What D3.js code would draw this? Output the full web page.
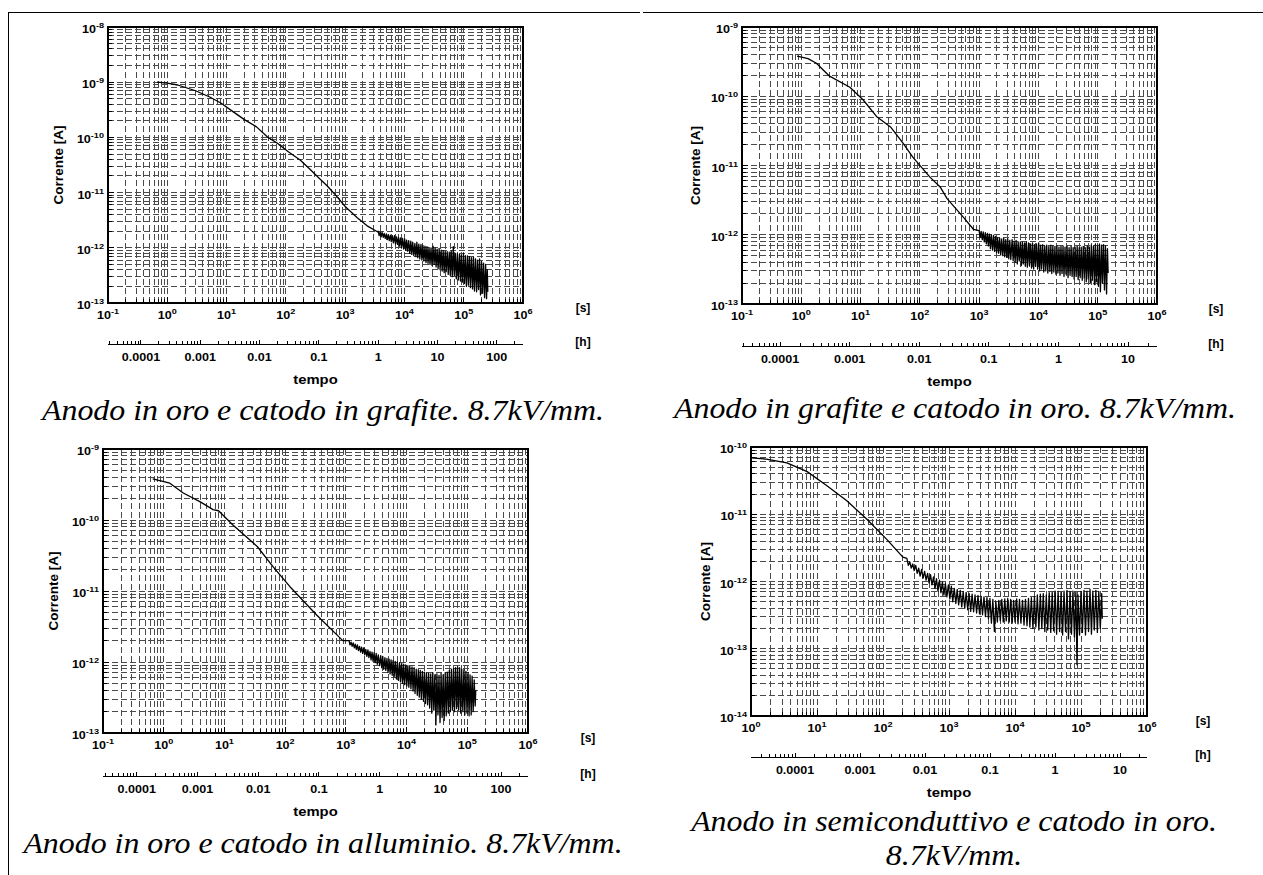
<!DOCTYPE html>
<html><head><meta charset="utf-8">
<script src="https://cdn.jsdelivr.net/npm/d3@7"></script>
<style>body{margin:0;background:#fff} svg{display:block}</style>
</head><body>
<svg id="c" width="1263" height="875"></svg>
<script>
// ---------- DATA: [time s, current A] ----------
const p1Data = [[0.67,1.0e-9],[1.0,9.6e-10],[1.5,8.9e-10],[3.0,7.0e-10],[5.2,5.4e-10],[8.0,4.2e-10],[13,2.9e-10],[20,2.1e-10],
 [32,1.55e-10],[50,1.0e-10],[71,7.9e-11],[110,5.5e-11],[174,3.9e-11],[250,2.7e-11],[350,1.9e-11],[500,1.32e-11],[710,8.7e-12],
 [1000,5.6e-12],[1600,3.5e-12],[2350,2.5e-12],[3500,1.95e-12],
 [3600,2.0e-12],[3750,1.66e-12],[3900,1.95e-12],[4050,1.58e-12],[4200,1.9e-12],[4400,1.55e-12],[4550,1.82e-12],[4750,1.48e-12],
 [4950,1.78e-12],[5150,1.41e-12],[5350,1.74e-12],[5550,1.35e-12],[5800,1.7e-12],[6000,1.29e-12],[6250,1.66e-12],[6500,1.23e-12],
 [6800,1.66e-12],[7050,1.17e-12],[7350,1.58e-12],[7650,1.15e-12],[7950,1.55e-12],[8300,1.07e-12],[8600,1.51e-12],[8950,1.02e-12],
 [9300,1.48e-12],[9700,9.5e-13],[1.01e4,1.45e-12],[1.05e4,9.1e-13],[1.09e4,1.38e-12],[1.13e4,8.7e-13],[1.18e4,1.35e-12],[1.23e4,7.9e-13],
 [1.28e4,1.32e-12],[1.33e4,7.6e-13],[1.38e4,1.26e-12],[1.44e4,7.2e-13],[1.5e4,1.2e-12],[1.56e4,6.9e-13],[1.62e4,1.26e-12],[1.68e4,6.6e-13],
 [1.75e4,1.17e-12],[1.82e4,6.3e-13],[1.9e4,1.15e-12],[1.97e4,6.0e-13],[2.05e4,1.1e-12],[2.13e4,5.75e-13],[2.22e4,1.07e-12],[2.31e4,5.4e-13],
 [2.4e4,1.05e-12],[2.5e4,5.25e-13],[2.6e4,1.02e-12],[2.7e4,5.0e-13],[2.81e4,1.0e-12],[2.92e4,4.8e-13],[3.04e4,1.07e-12],[3.16e4,5.0e-13],
 [3.29e4,1.0e-12],[3.42e4,4.5e-13],[3.56e4,9.5e-13],[3.7e4,4.2e-13],[3.85e4,9.8e-13],[4.0e4,4.0e-13],[4.16e4,9.1e-13],[4.33e4,3.8e-13],
 [4.5e4,8.9e-13],[4.68e4,3.55e-13],[4.87e4,8.7e-13],[5.06e4,3.7e-13],[5.27e4,8.5e-13],[5.48e4,3.3e-13],[5.7e4,8.3e-13],[5.93e4,3.2e-13],
 [6.16e4,8.7e-13],[6.41e4,3.0e-13],[6.67e4,1.05e-12],[6.93e4,3.2e-13],[7.21e4,7.9e-13],[7.5e4,2.75e-13],[7.8e4,7.8e-13],[8.1e4,2.6e-13],
 [8.45e4,7.6e-13],[8.8e4,2.5e-13],[9.1e4,7.4e-13],[9.5e4,2.4e-13],[9.9e4,7.8e-13],[1.03e5,2.25e-13],[1.07e5,7.2e-13],[1.11e5,2.0e-13],
 [1.16e5,7.1e-13],[1.2e5,2.1e-13],[1.25e5,6.9e-13],[1.3e5,1.9e-13],[1.35e5,6.6e-13],[1.41e5,1.8e-13],[1.46e5,6.8e-13],[1.52e5,1.65e-13],
 [1.58e5,6.3e-13],[1.65e5,1.6e-13],[1.71e5,6.0e-13],[1.78e5,1.75e-13],[1.85e5,6.3e-13],[1.92e5,1.4e-13],[2.0e5,5.6e-13],[2.08e5,1.5e-13],
 [2.16e5,5.25e-13],[2.25e5,1.25e-13],[2.34e5,5.0e-13],[2.43e5,1.2e-13],[2.5e5,4.0e-13],[2.55e5,1.6e-13]];

const p2Data = [[0.85,3.8e-10],[1.3,3.5e-10],[1.8,3.0e-10],[3.0,1.95e-10],[6.6,1.35e-10],[11,8.9e-11],[19,5.0e-11],[32,3.6e-11],
 [52,2.1e-11],[76,1.32e-11],[148,6.8e-12],[220,4.9e-12],[290,3.3e-12],[540,1.8e-12],[800,1.2e-12],
 [1000,1.15e-12],[1040,9.1e-13],[1080,1.12e-12],[1130,8.5e-13],[1170,1.1e-12],[1220,7.9e-13],[1270,1.07e-12],[1320,7.4e-13],
 [1380,1.05e-12],[1430,6.9e-13],[1490,1.02e-12],[1550,6.3e-13],[1610,1.0e-12],[1680,6.0e-13],[1750,9.8e-13],[1820,5.75e-13],
 [1890,9.5e-13],[1970,5.5e-13],[2050,9.1e-13],[2130,5.4e-13],[2220,8.9e-13],[2310,5.1e-13],[2400,8.7e-13],[2500,5.0e-13],
 [2600,8.9e-13],[2700,4.8e-13],[2810,8.5e-13],[2920,4.7e-13],[3040,8.7e-13],[3160,4.5e-13],[3290,8.3e-13],[3420,4.4e-13],
 [3600,8.5e-13],[3750,4.2e-13],[3900,8.1e-13],[4050,4.0e-13],[4200,8.3e-13],[4400,3.8e-13],[4550,7.9e-13],[4750,4.2e-13],
 [4950,7.9e-13],[5150,3.6e-13],[5350,7.8e-13],[5550,3.8e-13],[5800,7.6e-13],[6000,3.55e-13],[6250,7.9e-13],[6500,3.4e-13],
 [6800,7.6e-13],[7050,3.6e-13],[7350,7.4e-13],[7650,3.3e-13],[7950,7.6e-13],[8300,3.2e-13],[8600,7.2e-13],[8950,3.5e-13],
 [9300,7.4e-13],[9700,3.2e-13],[1.01e4,7.6e-13],[1.05e4,3.0e-13],[1.09e4,7.1e-13],[1.13e4,3.2e-13],[1.18e4,7.2e-13],[1.23e4,2.9e-13],
 [1.28e4,6.9e-13],[1.33e4,3.0e-13],[1.38e4,7.1e-13],[1.44e4,2.8e-13],[1.5e4,6.8e-13],[1.56e4,2.95e-13],[1.62e4,7.1e-13],[1.68e4,2.75e-13],
 [1.75e4,6.9e-13],[1.82e4,2.9e-13],[1.9e4,6.8e-13],[1.97e4,2.7e-13],[2.05e4,6.9e-13],[2.13e4,2.8e-13],[2.22e4,6.6e-13],[2.31e4,2.6e-13],
 [2.4e4,6.8e-13],[2.5e4,2.75e-13],[2.6e4,6.9e-13],[2.7e4,2.5e-13],[2.81e4,6.6e-13],[2.92e4,2.7e-13],[3.04e4,6.8e-13],[3.16e4,2.4e-13],
 [3.29e4,6.5e-13],[3.42e4,2.6e-13],[3.56e4,6.8e-13],[3.7e4,2.5e-13],[3.85e4,6.5e-13],[4.0e4,2.3e-13],[4.16e4,6.6e-13],[4.33e4,2.5e-13],
 [4.5e4,6.8e-13],[4.68e4,2.25e-13],[4.87e4,6.5e-13],[5.06e4,2.4e-13],[5.27e4,6.6e-13],[5.48e4,2.2e-13],[5.7e4,6.8e-13],[5.93e4,2.35e-13],
 [6.16e4,6.5e-13],[6.41e4,2.1e-13],[6.67e4,6.9e-13],[6.93e4,2.3e-13],[7.21e4,6.6e-13],[7.5e4,2.0e-13],[7.8e4,7.1e-13],[8.1e4,2.2e-13],
 [8.45e4,6.8e-13],[8.8e4,1.9e-13],[9.1e4,7.2e-13],[9.5e4,2.1e-13],[9.9e4,6.9e-13],[1.03e5,1.8e-13],[1.07e5,7.4e-13],[1.11e5,1.5e-13],
 [1.16e5,7.1e-13],[1.2e5,2.0e-13],[1.25e5,7.2e-13],[1.3e5,1.6e-13],[1.35e5,6.9e-13],[1.41e5,1.4e-13],[1.46e5,6.3e-13],[1.5e5,2.8e-13]];

const p3Data = [[0.66,3.8e-10],[1.26,3.3e-10],[2.1,2.4e-10],[4.0,1.8e-10],[6.5,1.4e-10],[8.0,1.35e-10],[13.8,8.5e-11],[35,4.2e-11],
 [63,2.2e-11],[120,1.15e-11],[330,4.6e-12],[890,2.0e-12],
 [1130,2.0e-12],[1170,1.74e-12],[1220,1.9e-12],[1270,1.66e-12],[1320,1.86e-12],[1380,1.58e-12],[1430,1.78e-12],[1490,1.51e-12],
 [1550,1.74e-12],[1610,1.45e-12],[1680,1.66e-12],[1750,1.38e-12],[1820,1.62e-12],[1890,1.32e-12],[1970,1.58e-12],[2050,1.26e-12],
 [2130,1.51e-12],[2220,1.2e-12],[2310,1.48e-12],[2400,1.15e-12],[2500,1.41e-12],[2600,1.07e-12],[2700,1.38e-12],[2810,1.02e-12],
 [2920,1.35e-12],[3040,9.8e-13],[3160,1.32e-12],[3290,9.3e-13],[3420,1.26e-12],[3600,8.9e-13],[3750,1.23e-12],[3900,8.3e-13],
 [4050,1.2e-12],[4200,7.9e-13],[4400,1.15e-12],[4550,7.6e-13],[4750,1.12e-12],[4950,7.1e-13],[5150,1.1e-12],[5350,6.8e-13],
 [5550,1.07e-12],[5800,6.5e-13],[6000,1.05e-12],[6250,6.2e-13],[6500,1.02e-12],[6800,5.75e-13],[7050,1.0e-12],[7350,5.5e-13],
 [7650,9.8e-13],[7950,5.25e-13],[8300,9.5e-13],[8600,5.0e-13],[8950,9.3e-13],[9300,4.8e-13],[9700,9.1e-13],[1.01e4,4.6e-13],
 [1.05e4,8.9e-13],[1.09e4,4.4e-13],[1.13e4,8.7e-13],[1.18e4,4.2e-13],[1.23e4,8.5e-13],[1.28e4,3.9e-13],[1.33e4,8.3e-13],[1.38e4,3.6e-13],
 [1.44e4,7.9e-13],[1.5e4,3.4e-13],[1.56e4,7.8e-13],[1.62e4,3.2e-13],[1.68e4,7.6e-13],[1.75e4,3.0e-13],[1.82e4,7.4e-13],[1.9e4,2.8e-13],
 [1.97e4,7.2e-13],[2.05e4,2.6e-13],[2.13e4,7.1e-13],[2.22e4,2.5e-13],[2.31e4,6.9e-13],[2.4e4,2.25e-13],[2.5e4,6.8e-13],[2.6e4,1.9e-13],
 [2.7e4,7.1e-13],[2.81e4,2.1e-13],[2.92e4,6.6e-13],[3.04e4,1.3e-13],[3.16e4,6.8e-13],[3.29e4,1.8e-13],[3.42e4,6.5e-13],[3.56e4,1.4e-13],
 [3.7e4,6.9e-13],[3.85e4,1.65e-13],[4.0e4,6.6e-13],[4.16e4,1.5e-13],[4.33e4,7.1e-13],[4.5e4,1.75e-13],[4.68e4,7.2e-13],[4.87e4,1.9e-13],
 [5.06e4,7.6e-13],[5.27e4,2.0e-13],[5.48e4,7.9e-13],[5.7e4,2.1e-13],[5.93e4,8.1e-13],[6.16e4,2.0e-13],[6.41e4,8.3e-13],[6.67e4,2.2e-13],
 [6.93e4,8.5e-13],[7.21e4,2.1e-13],[7.5e4,8.3e-13],[7.8e4,1.9e-13],[8.1e4,7.9e-13],[8.45e4,2.0e-13],[8.8e4,7.8e-13],[9.1e4,1.8e-13],
 [9.5e4,7.4e-13],[9.9e4,1.9e-13],[1.03e5,7.1e-13],[1.07e5,1.75e-13],[1.11e5,6.6e-13],[1.16e5,1.8e-13],[1.2e5,6.3e-13],[1.25e5,2.0e-13],
 [1.3e5,5.6e-13],[1.35e5,2.4e-13],[1.38e5,4.0e-13]];

const p4Data = [[1.0,6.9e-11],[1.7,6.6e-11],[3.5,5.8e-11],[7.1,4.3e-11],[13.8,2.7e-11],[28,1.6e-11],[55,8.7e-12],[115,4.2e-12],[200,2.3e-12],
 [230,2.2e-12],[242,1.74e-12],[255,1.95e-12],[268,1.58e-12],[282,1.82e-12],[297,1.45e-12],[313,1.74e-12],[330,1.32e-12],
 [347,1.58e-12],[365,1.2e-12],[385,1.51e-12],[405,1.12e-12],[427,1.41e-12],[450,1.05e-12],[474,1.32e-12],[499,9.5e-13],
 [525,1.26e-12],[553,8.9e-13],[583,1.17e-12],[614,7.9e-13],[646,1.1e-12],[681,7.2e-13],[717,1.05e-12],[755,6.8e-13],
 [795,9.8e-13],[837,6.3e-13],[882,9.3e-13],[929,5.9e-13],[978,8.9e-13],[1030,5.5e-13],[1085,8.5e-13],[1140,5.0e-13],
 [1200,7.9e-13],[1270,4.7e-13],[1330,7.6e-13],[1400,4.5e-13],[1480,7.4e-13],[1560,4.2e-13],[1640,7.1e-13],[1730,4.0e-13],
 [1820,6.9e-13],[1920,3.8e-13],[2020,6.6e-13],[2130,3.6e-13],[2240,6.5e-13],[2360,3.55e-13],[2480,6.3e-13],[2620,3.4e-13],
 [2750,6.2e-13],[2900,3.3e-13],[3060,6.0e-13],[3220,3.2e-13],[3390,5.9e-13],[3570,3.0e-13],[3760,5.75e-13],[3960,2.8e-13],
 [4170,5.6e-13],[4390,2.4e-13],[4620,5.4e-13],[4870,1.8e-13],[5130,5.0e-13],[5400,2.5e-13],[5690,5.25e-13],[5990,2.6e-13],
 [6310,5.4e-13],[6640,2.5e-13],[7000,5.5e-13],[7370,2.6e-13],[7760,5.6e-13],[8170,2.5e-13],[8600,5.4e-13],[9060,2.4e-13],
 [9540,5.25e-13],[1.0e4,2.5e-13],[1.06e4,5.5e-13],[1.11e4,2.35e-13],[1.17e4,5.4e-13],[1.23e4,2.4e-13],[1.3e4,5.25e-13],[1.37e4,2.25e-13],
 [1.44e4,5.4e-13],[1.52e4,2.2e-13],[1.6e4,5.6e-13],[1.68e4,2.1e-13],[1.77e4,5.75e-13],[1.87e4,2.0e-13],[1.97e4,6.0e-13],[2.07e4,2.1e-13],
 [2.18e4,6.3e-13],[2.3e4,1.9e-13],[2.42e4,6.5e-13],[2.55e4,2.0e-13],[2.68e4,6.6e-13],[2.83e4,1.8e-13],[2.98e4,6.3e-13],[3.13e4,1.9e-13],
 [3.3e4,6.8e-13],[3.48e4,1.75e-13],[3.66e4,6.9e-13],[3.85e4,1.85e-13],[4.06e4,7.2e-13],[4.27e4,1.65e-13],[4.5e4,7.1e-13],[4.74e4,1.8e-13],
 [4.99e4,6.9e-13],[5.26e4,1.6e-13],[5.53e4,7.2e-13],[5.83e4,1.8e-13],[6.14e4,7.4e-13],[6.46e4,1.4e-13],[6.81e4,7.1e-13],[7.17e4,1.65e-13],
 [7.55e4,7.2e-13],[7.95e4,1.5e-13],[8.37e4,6.9e-13],[8.7e4,5.8e-14],[9.0e4,6.3e-13],[9.5e4,1.6e-13],[1.0e5,7.1e-13],[1.05e5,1.75e-13],
 [1.11e5,7.4e-13],[1.17e5,1.6e-13],[1.23e5,7.2e-13],[1.3e5,1.8e-13],[1.37e5,7.6e-13],[1.44e5,1.65e-13],[1.51e5,7.2e-13],[1.59e5,1.9e-13],
 [1.68e5,7.4e-13],[1.77e5,1.75e-13],[1.86e5,7.1e-13],[1.96e5,2.0e-13],[2.06e5,6.6e-13],[2.1e5,2.8e-13]];

const hourLabelsLong = ["0.0001","0.001","0.01","0.1","1","10","100"];
const hourLabelsShort = ["0.0001","0.001","0.01","0.1","1","10"];
const yAxisTitle = "Corrente [A]";
const xAxisTitle = "tempo";
const unitSeconds = "[s]";
const unitHours = "[h]";
const captions = [
  ["Anodo in oro e catodo in grafite. 8.7kV/mm."],
  ["Anodo in grafite e catodo in oro. 8.7kV/mm."],
  ["Anodo in oro e catodo in alluminio. 8.7kV/mm."],
  ["Anodo in semiconduttivo e catodo in oro.", "8.7kV/mm."]
];

// ---------- LAYOUT ----------
const panels = [
  {data:p1Data, x0:108, y0:27, w:415, h:276, xDom:[1e-1,1e6], yDom:[1e-13,1e-8],
   hDom:[0.1/3600, 1e6/3600], hLabels:hourLabelsLong, hLineY:344, unitX:583, titleX:58,
   cap:captions[0], capX:323, capY:[420]},
  {data:p2Data, x0:742, y0:27, w:415, h:277, xDom:[1e-1,1e6], yDom:[1e-13,1e-9],
   hDom:[2.84e-5, 26.1], hLabels:hourLabelsShort, hLineY:346, unitX:1216, titleX:695,
   cap:captions[1], capX:955, capY:[418]},
  {data:p3Data, x0:103, y0:449, w:425, h:284, xDom:[1e-1,1e6], yDom:[1e-13,1e-9],
   hDom:[0.1/3600, 1e6/3600], hLabels:hourLabelsLong, hLineY:776, unitX:588, titleX:53,
   cap:captions[2], capX:323, capY:[853]},
  {data:p4Data, x0:751, y0:447, w:396, h:269, xDom:[1,1e6], yDom:[1e-14,1e-10],
   hDom:[2.10e-5, 26.0], hLabels:hourLabelsShort, hLineY:757, unitX:1203, titleX:705,
   cap:captions[3], capX:954, capY:[831, 865]}
];

const SANS = "'Liberation Sans', Arial, Helvetica, sans-serif";
const SERIF = "'Liberation Serif', 'Times New Roman', serif";
const SX = 1.14; // horizontal stretch of the original raster

const svg = d3.select('#c');
svg.append('rect').attr('width',1263).attr('height',875).attr('fill','#fff');

// table borders
svg.append('line').attr('x1',8).attr('x2',640).attr('y1',12.5).attr('y2',12.5).attr('stroke','#000');
svg.append('line').attr('x1',643).attr('x2',1263).attr('y1',12.5).attr('y2',12.5).attr('stroke','#000');
svg.append('line').attr('x1',8.5).attr('x2',8.5).attr('y1',12).attr('y2',875).attr('stroke','#000');

function sText(g, x, y, anchor, size, str, opts = {}) {
  return g.append('text')
    .attr('transform', `translate(${x},${y}) scale(${opts.sx || SX},1)`)
    .attr('text-anchor', anchor)
    .attr('font-family', opts.family || SANS)
    .attr('font-weight', opts.weight || 'bold')
    .attr('font-style', opts.style || 'normal')
    .attr('font-size', size)
    .attr('fill', '#000')
    .text(str);
}
function powText(g, x, y, anchor, exp) {
  const t = g.append('text')
    .attr('transform', `translate(${x},${y}) scale(${SX},1)`)
    .attr('text-anchor', anchor)
    .attr('font-family', SANS).attr('font-weight', 'bold').attr('font-size', 11);
  t.append('tspan').text('10');
  t.append('tspan').attr('dy', -5).attr('font-size', 8).text(exp);
}
const isDecade = v => Math.abs(Math.log10(v) - Math.round(Math.log10(v))) < 1e-9;

panels.forEach(p => {
  const g = svg.append('g');
  const x = d3.scaleLog().domain(p.xDom).range([p.x0, p.x0 + p.w]);
  const y = d3.scaleLog().domain(p.yDom).range([p.y0 + p.h, p.y0]);
  const xt = x.ticks().filter(v => v > p.xDom[0]*1.0001 && v < p.xDom[1]*0.9999);
  const yt = y.ticks().filter(v => v > p.yDom[0]*1.0001 && v < p.yDom[1]*0.9999);

  // grid
  const grid = g.append('g').attr('stroke', '#4a4a4a').attr('stroke-width', 1)
    .attr('shape-rendering', 'crispEdges').attr('stroke-dasharray', '6,3');
  grid.selectAll('line.v').data(xt).join('line')
    .attr('x1', d => x(d)).attr('x2', d => x(d)).attr('y1', p.y0).attr('y2', p.y0 + p.h);
  grid.selectAll('line.h').data(yt).join('line').attr('class','h')
    .attr('y1', d => y(d)).attr('y2', d => y(d)).attr('x1', p.x0).attr('x2', p.x0 + p.w);

  // ticks (inward) on bottom and left
  const tk = g.append('g').attr('stroke', '#000').attr('shape-rendering', 'crispEdges');
  tk.selectAll('line.bx').data(x.ticks()).join('line')
    .attr('x1', d => x(d)).attr('x2', d => x(d))
    .attr('y1', p.y0 + p.h).attr('y2', d => p.y0 + p.h - (isDecade(d) ? 6 : 4));
  tk.selectAll('line.ly').data(y.ticks()).join('line').attr('class','ly')
    .attr('y1', d => y(d)).attr('y2', d => y(d))
    .attr('x1', p.x0).attr('x2', d => p.x0 + (isDecade(d) ? 6 : 4));

  // frame
  g.append('rect').attr('x', p.x0).attr('y', p.y0).attr('width', p.w).attr('height', p.h)
    .attr('fill', 'none').attr('stroke', '#000').attr('stroke-width', 1.2).attr('shape-rendering', 'crispEdges');

  // data
  g.append('path').datum(p.data)
    .attr('fill', 'none').attr('stroke', '#000').attr('stroke-width', 1.3).attr('stroke-linejoin', 'round')
    .attr('d', d3.line().x(d => x(d[0])).y(d => y(d[1])));

  // tick labels
  x.ticks().filter(isDecade).forEach(v => powText(g, x(v), p.y0 + p.h + 16, 'middle', String(Math.round(Math.log10(v)))));
  y.ticks().filter(isDecade).forEach(v => powText(g, p.x0 - 4, y(v) + 6, 'end', String(Math.round(Math.log10(v)))));

  // y title
  g.append('text').attr('transform', `translate(${p.titleX},${p.y0 + p.h/2}) rotate(-90)`)
    .attr('text-anchor', 'middle').attr('dominant-baseline', 'central')
    .attr('font-family', SANS).attr('font-weight', 'bold').attr('font-size', 13.5).text(yAxisTitle);

  // units
  sText(g, p.unitX, p.y0 + p.h + 9, 'middle', 12, unitSeconds, {sx:1});
  sText(g, p.unitX, p.hLineY + 2, 'middle', 12, unitHours, {sx:1});

  // hours axis
  const hx = d3.scaleLog().domain(p.hDom).range([p.x0, p.x0 + p.w]);
  g.append('line').attr('x1', p.x0).attr('x2', p.x0 + p.w).attr('y1', p.hLineY + 0.5).attr('y2', p.hLineY + 0.5)
    .attr('stroke', '#000');
  g.append('g').attr('stroke', '#000').attr('shape-rendering', 'crispEdges')
    .selectAll('line').data(hx.ticks()).join('line')
    .attr('x1', d => hx(d)).attr('x2', d => hx(d))
    .attr('y1', p.hLineY).attr('y2', d => p.hLineY - (isDecade(d) ? 4 : 3));
  p.hLabels.forEach(s => sText(g, hx(+s), p.hLineY + 17, 'middle', 11, s));

  // x title
  sText(g, p.x0 + p.w/2, p.hLineY + 40, 'middle', 13, xAxisTitle);

  // caption
  p.cap.forEach((line, i) => sText(g, p.capX, p.capY[i], 'middle', 29, line,
    {family: SERIF, weight: 'normal', style: 'italic', sx: 1.1}));
});
</script>
</body></html>
